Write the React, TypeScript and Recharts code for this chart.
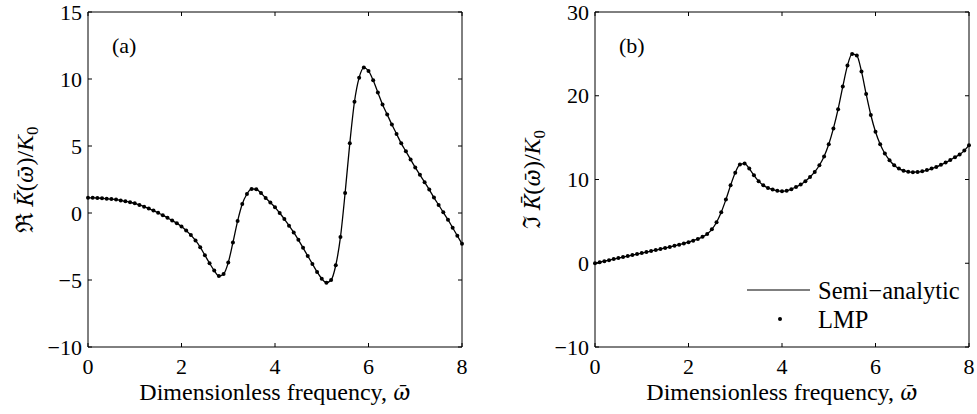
import React from 'react';
import { LineChart, Line, XAxis, YAxis, Label, Legend } from 'recharts';

const FONT = 'Liberation Serif, Times New Roman, serif';
const MATH_FONT = 'Noto Serif, DejaVu Serif, serif';
const TICK_LEN = 4;

// dimensionless frequency (x values)
const OMEGA = [
  0, 0.1, 0.2, 0.3, 0.4, 0.5, 0.6, 0.7, 0.8, 0.9,
  1, 1.1, 1.2, 1.3, 1.4, 1.5, 1.6, 1.7, 1.8, 1.9,
  2, 2.1, 2.2, 2.3, 2.4, 2.5, 2.6, 2.7, 2.8, 2.9,
  3, 3.1, 3.2, 3.3, 3.4, 3.5, 3.6, 3.7, 3.8, 3.9,
  4, 4.1, 4.2, 4.3, 4.4, 4.5, 4.6, 4.7, 4.8, 4.9,
  5, 5.1, 5.2, 5.3, 5.4, 5.5, 5.6, 5.7, 5.8, 5.9,
  6, 6.1, 6.2, 6.3, 6.4, 6.5, 6.6, 6.7, 6.8, 6.9,
  7, 7.1, 7.2, 7.3, 7.4, 7.5, 7.6, 7.7, 7.8, 7.9,
  8,
];

// Re K(w)/K0
const REAL_PART = [
  1.14, 1.13, 1.12, 1.1, 1.07, 1.04, 1.0, 0.94, 0.87, 0.8,
  0.72, 0.6, 0.47, 0.33, 0.18, 0.02, -0.16, -0.36, -0.56, -0.77,
  -1.0, -1.3, -1.65, -2.05, -2.55, -3.15, -3.75, -4.3, -4.7, -4.55,
  -3.7, -2.2, -0.6, 0.67, 1.42, 1.8, 1.77, 1.5, 1.12, 0.78,
  0.42, 0.0, -0.45, -0.95, -1.45, -2.0, -2.6, -3.2, -3.8, -4.4,
  -4.9, -5.2, -5.0, -3.9, -1.8, 1.5, 5.2, 8.3, 10.1, 10.85,
  10.6, 9.9, 9.0, 8.1, 7.35, 6.6, 5.9, 5.2, 4.6, 4.0,
  3.4, 2.85, 2.3, 1.75, 1.15, 0.6, 0.05, -0.5, -1.1, -1.7,
  -2.3,
];

// Im K(w)/K0
const IMAG_PART = [
  0.0, 0.12, 0.25, 0.37, 0.5, 0.62, 0.74, 0.86, 0.98, 1.1,
  1.22, 1.34, 1.46, 1.58, 1.7, 1.82, 1.95, 2.08, 2.22, 2.37,
  2.52, 2.7, 2.9, 3.15, 3.5, 4.05, 4.9, 6.1, 7.6, 9.3,
  10.8, 11.8, 11.9, 11.3, 10.5, 9.8, 9.3, 9.0, 8.8, 8.65,
  8.6, 8.65, 8.85, 9.1, 9.4, 9.8, 10.3, 10.9, 11.7, 12.75,
  14.2, 16.1, 18.4, 21.1, 23.6, 25.0, 24.8, 22.9, 20.2, 17.7,
  15.7, 14.2, 13.1, 12.3, 11.7, 11.3, 11.05, 10.92, 10.88, 10.9,
  10.98, 11.12, 11.3, 11.5, 11.75, 12.02, 12.32, 12.65, 13.0, 13.45,
  14.1,
];

const X_TICKS = [0, 2, 4, 6, 8];
const RE_TICKS = [-10, -5, 0, 5, 10, 15];
const IM_TICKS = [-10, 0, 10, 20, 30];

const realRows = OMEGA.map((x, i) => ({ x, semi: REAL_PART[i], lmp: REAL_PART[i] }));
const imagRows = OMEGA.map((x, i) => ({ x, semi: IMAG_PART[i], lmp: IMAG_PART[i] }));

const fmt = (v: number) => String(v).replace('-', '\u2212');
const txt = { fontFamily: FONT, fill: '#000' };
const mathTxt = { fontFamily: MATH_FONT, fontStyle: 'italic' as const };

const BottomTick = (p: any) => (
  <g>
    <line x1={p.x} x2={p.x} y1={p.y} y2={p.y - TICK_LEN} stroke="#000" strokeWidth={1} />
    <text x={p.x} y={p.y + 27} textAnchor="middle" fontSize={22} style={txt}>
      {fmt(p.payload.value)}
    </text>
  </g>
);
const TopTick = (p: any) => (
  <line x1={p.x} x2={p.x} y1={p.y} y2={p.y + TICK_LEN} stroke="#000" strokeWidth={1} />
);
const LeftTick = (p: any) => (
  <g>
    <line x1={p.x} x2={p.x + TICK_LEN} y1={p.y} y2={p.y} stroke="#000" strokeWidth={1} />
    <text x={p.x - 6} y={p.y} dy="0.35em" textAnchor="end" fontSize={22} style={txt}>
      {fmt(p.payload.value)}
    </text>
  </g>
);
const RightTick = (p: any) => (
  <line x1={p.x} x2={p.x - TICK_LEN} y1={p.y} y2={p.y} stroke="#000" strokeWidth={1} />
);

const xTitle = (props: any) => {
  const vb = props.viewBox;
  return (
    <text x={vb.x + vb.width / 2} y={vb.y + 53} textAnchor="middle" fontSize={24} style={txt}>
      Dimensionless frequency, <tspan style={mathTxt} fontSize={22}>{'\u03C9\u0304'}</tspan>
    </text>
  );
};

const yTitle = (sym: string) => (props: any) => {
  const vb = props.viewBox;
  const cx = vb.x + vb.width - 63;
  const cy = vb.y + vb.height / 2;
  return (
    <text
      x={cx}
      y={cy}
      transform={`rotate(-90, ${cx}, ${cy})`}
      textAnchor="middle"
      dy="0.35em"
      fontSize={24}
      style={txt}
    >
      {sym + ' '}
      <tspan style={mathTxt} fontSize={22}>{'K\u0304'}</tspan>(
      <tspan style={mathTxt} fontSize={22}>{'\u03C9\u0304'}</tspan>)/
      <tspan fontStyle="italic">K</tspan>
      <tspan fontSize={17} dy={5}>0</tspan>
    </text>
  );
};

const panelTag = (tag: string) => (props: any) => {
  const vb = props.viewBox;
  return (
    <text x={vb.x + 24} y={vb.y + vb.height + 41} fontSize={22} style={txt}>
      {tag}
    </text>
  );
};

const legendBox = () => (
  <svg width={230} height={60} style={{ display: 'block' }}>
    <line x1={7} x2={70} y1={15} y2={15} stroke="#000" strokeWidth={1.2} />
    <text x={78} y={15} dy="0.35em" fontSize={24.5} style={txt}>
      Semi{'\u2212'}analytic
    </text>
    <circle cx={40} cy={44} r={2} fill="#000" />
    <text x={78} y={44} dy="0.35em" fontSize={24.5} style={txt}>
      LMP
    </text>
  </svg>
);

interface PanelProps {
  rows: { x: number; semi: number; lmp: number }[];
  yDomain: [number, number];
  yTicks: number[];
  sym: string;
  tag: string;
  width: number;
  axisWidth: number;
  rightMargin: number;
  withLegend?: boolean;
}

function Panel({ rows, yDomain, yTicks, sym, tag, width, axisWidth, rightMargin, withLegend }: PanelProps) {
  return (
    <LineChart width={width} height={414} data={rows} margin={{ top: 10, right: rightMargin - 2, bottom: 0, left: 0 }}>
      <XAxis
        xAxisId="b"
        dataKey="x"
        type="number"
        domain={[0, 8]}
        ticks={X_TICKS}
        interval={0}
        height={67}
        tickSize={0}
        tickMargin={0}
        tick={BottomTick}
        axisLine={{ stroke: '#000', strokeWidth: 1 }}
      >
        <Label content={xTitle} />
      </XAxis>
      <XAxis
        xAxisId="t"
        orientation="top"
        dataKey="x"
        type="number"
        domain={[0, 8]}
        ticks={X_TICKS}
        interval={0}
        height={2}
        tickSize={0}
        tickMargin={0}
        tick={TopTick}
        axisLine={{ stroke: '#000', strokeWidth: 1 }}
      >
        <Label content={panelTag(tag)} />
      </XAxis>
      <YAxis
        yAxisId="l"
        type="number"
        domain={yDomain}
        ticks={yTicks}
        interval={0}
        width={axisWidth}
        tickSize={0}
        tickMargin={0}
        tick={LeftTick}
        axisLine={{ stroke: '#000', strokeWidth: 1 }}
      >
        <Label content={yTitle(sym)} />
      </YAxis>
      <YAxis
        yAxisId="r"
        orientation="right"
        type="number"
        domain={yDomain}
        ticks={yTicks}
        interval={0}
        width={2}
        tickSize={0}
        tickMargin={0}
        tick={RightTick}
        axisLine={{ stroke: '#000', strokeWidth: 1 }}
      />
      <Line
        xAxisId="b"
        yAxisId="l"
        dataKey="semi"
        type="monotone"
        stroke="#000"
        strokeWidth={1.3}
        dot={false}
        activeDot={false}
        isAnimationActive={false}
      />
      <Line
        xAxisId="t"
        yAxisId="r"
        dataKey="lmp"
        stroke="none"
        dot={{ r: 2, fill: '#000', stroke: 'none' }}
        activeDot={false}
        isAnimationActive={false}
      />
      {withLegend && (
        <Legend
          layout="horizontal"
          verticalAlign="middle"
          align="center"
          content={legendBox}
          wrapperStyle={{ left: 250, top: 275, width: 230, height: 60 }}
        />
      )}
    </LineChart>
  );
}

export default function App() {
  return (
    <div style={{ position: 'fixed', left: 0, top: 0, width: 977, height: 414, background: '#fff' }}>
      <div style={{ position: 'absolute', left: 0, top: 0 }}>
        <Panel
          rows={realRows}
          yDomain={[-10, 15]}
          yTicks={RE_TICKS}
          sym={'\u211C'}
          tag="(a)"
          width={490}
          axisWidth={88}
          rightMargin={28}
        />
      </div>
      <div style={{ position: 'absolute', left: 490, top: 0 }}>
        <Panel
          rows={imagRows}
          yDomain={[-10, 30]}
          yTicks={IM_TICKS}
          sym={'\u2111'}
          tag="(b)"
          width={487}
          axisWidth={105}
          rightMargin={8}
          withLegend
        />
      </div>
    </div>
  );
}
